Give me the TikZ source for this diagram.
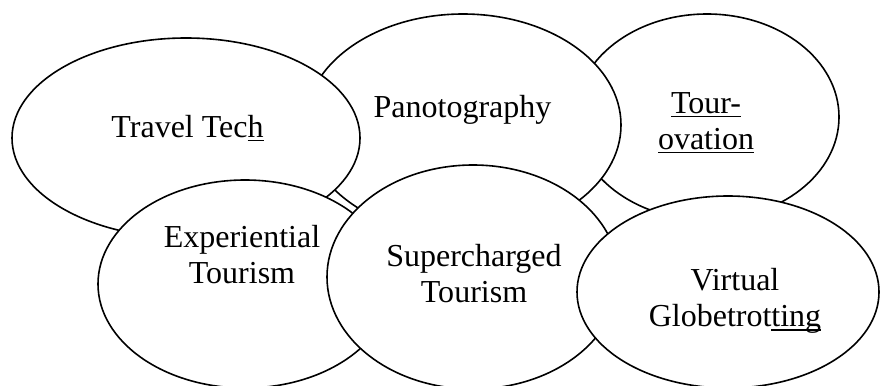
\documentclass[tikz,border=0pt]{standalone}
\usepackage{fontspec}
\setmainfont{Liberation Serif}
\usetikzlibrary{shapes.geometric}

% underline drawn just below the baseline, crossing descenders
\newsavebox\ulinebox
\newcommand\ulined[1]{\sbox\ulinebox{#1}\rlap{\rule[-3.3pt]{\wd\ulinebox}{1.1pt}}\usebox\ulinebox}

\tikzset{
  bubble/.style={ellipse, draw=black, fill=white, line width=1.2pt,
                 inner sep=0pt, outer sep=0pt},
  caption/.style={font=\fontsize{24pt}{27pt}\selectfont, align=center,
                  inner sep=0pt, outer sep=0pt, text=black},
}

\begin{document}
\begin{tikzpicture}[x=0.75pt, y=-0.75pt]
\path[use as bounding box, fill=white] (0,0) rectangle (880,385);

% back row, drawn first so the later bubbles overlap them
\node[bubble, minimum width=198pt, minimum height=154.5pt] (tourovation) at (707,117) {};
\node[caption, anchor=center] (tourovationTxt) at (706,123.8) {\strut\ulined{Tour-}\\\ulined{ovation}\strut};

\node[bubble, minimum width=237pt, minimum height=166.5pt] (panotography) at (463,125) {};
\node[caption, anchor=base] (panotographyTxt) at (462.5,117) {Panotography};

\node[bubble, minimum width=261pt, minimum height=150pt] (traveltech) at (186,138) {};
\node[caption, anchor=base] (traveltechTxt) at (187.5,137) {Travel Tec\ulined{h}};

% front row
\node[bubble, minimum width=220.5pt, minimum height=156pt] (experiential) at (245,284) {};
\node[caption, anchor=center] (experientialTxt) at (242,257.8) {\strut Experiential\\Tourism\strut};

\node[bubble, minimum width=219pt, minimum height=168pt] (supercharged) at (473,277) {};
\node[caption, anchor=center] (superchargedTxt) at (474,276.8) {\strut Supercharged\\Tourism\strut};

\node[bubble, minimum width=226.5pt, minimum height=144pt] (virtual) at (728,292) {};
\node[caption, anchor=center] (virtualTxt) at (735,301.3) {\strut Virtual\\Globetrot\ulined{ting}\strut};
\end{tikzpicture}
\end{document}
